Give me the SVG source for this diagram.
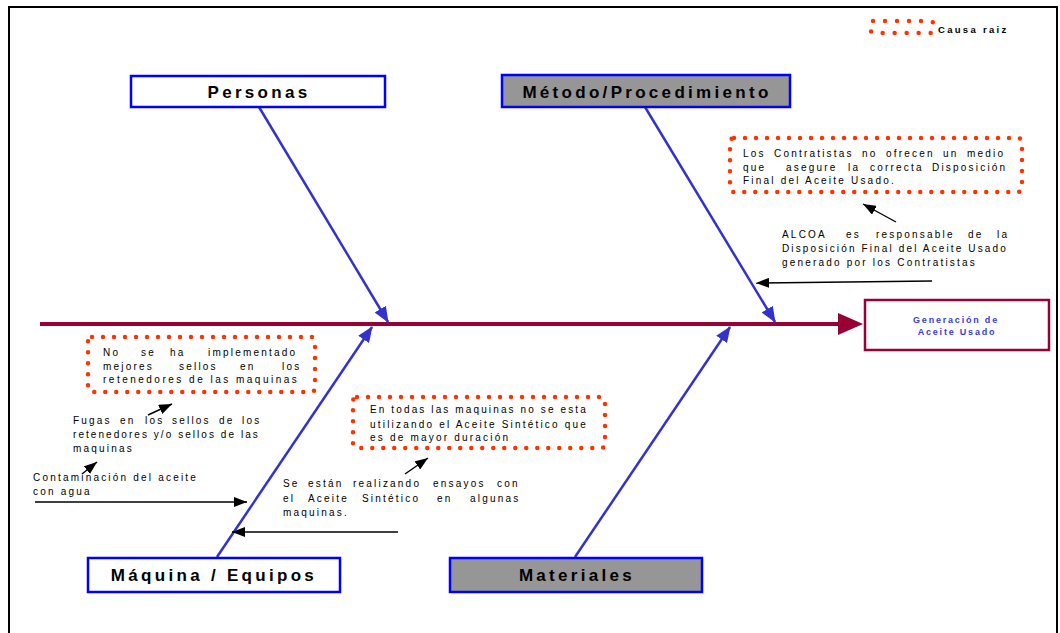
<svg xmlns="http://www.w3.org/2000/svg" width="1060" height="633" viewBox="0 0 1060 633">
  <defs>
    <marker id="blueHead" viewBox="0 0 16 13" refX="15" refY="6.5" markerWidth="16" markerHeight="13" markerUnits="userSpaceOnUse" orient="auto">
      <path d="M0,0 L16,6.5 L0,13 Z" fill="#3333cc"/>
    </marker>
    <marker id="blackHead" viewBox="0 0 13 10" refX="13" refY="5" markerWidth="13" markerHeight="10" markerUnits="userSpaceOnUse" orient="auto">
      <path d="M0,0 L13,5 L0,10 Z" fill="#000"/>
    </marker>
    <style>
      .title{font-family:"Liberation Sans",Arial,sans-serif;font-weight:bold;font-size:17px;letter-spacing:3.3px;text-anchor:middle;fill:#000}
      .note{font-family:"Liberation Sans",Arial,sans-serif;font-size:10px;letter-spacing:2.2px;fill:#000}
      .effect{font-family:"Liberation Sans",Arial,sans-serif;font-weight:bold;font-size:9px;letter-spacing:1.8px;text-anchor:middle;fill:#3b3bd6}
      .legend{font-family:"Liberation Sans",Arial,sans-serif;font-weight:bold;font-size:9.5px;letter-spacing:2.3px;fill:#000}
      .cause{fill:none;stroke:#ff3300;stroke-width:4.5;stroke-dasharray:0 11;stroke-linecap:round}
      .box{stroke:#0000ff;stroke-width:2.5}
      .bone{fill:none;stroke:#3333cc;stroke-width:2.5;marker-end:url(#blueHead)}
      .ptr{fill:none;stroke:#000;stroke-width:1.4;marker-end:url(#blackHead)}
    </style>
  </defs>

  <rect width="1060" height="633" fill="#fff"/>
  <!-- page frame -->
  <rect x="9" y="7" width="1048" height="700" fill="none" stroke="#000" stroke-width="2"/>

  <!-- legend -->
  <g id="legend">
    <rect class="cause" x="871" y="21" width="62" height="12" rx="2" style="stroke-dasharray:0 12"/>
    <text class="legend" x="938" y="33">Causa raiz</text>
  </g>

  <!-- connectors -->
  <g id="connectors">
    <!-- spine -->
    <line x1="40" y1="324" x2="840" y2="324" stroke="#990033" stroke-width="4"/>
    <path d="M838,313 L863,324 L838,335 Z" fill="#990033"/>
    <!-- main bones -->
    <line class="bone" x1="259" y1="107" x2="388" y2="322"/>
    <line class="bone" x1="645" y1="107" x2="775" y2="322"/>
    <line class="bone" x1="217" y1="557" x2="372" y2="327"/>
    <line class="bone" x1="575" y1="557" x2="730" y2="327"/>
    <!-- pointers -->
    <line class="ptr" x1="896" y1="222" x2="863" y2="204"/>
    <line class="ptr" x1="932" y1="281" x2="756" y2="283"/>
    <line class="ptr" x1="148" y1="415" x2="172" y2="404"/>
    <line class="ptr" x1="82" y1="474" x2="97" y2="462"/>
    <line class="ptr" x1="35" y1="502" x2="247" y2="502"/>
    <line class="ptr" x1="405" y1="474" x2="428" y2="458"/>
    <line class="ptr" x1="398" y1="532" x2="232" y2="532"/>
  </g>

  <!-- effect -->
  <g id="effect">
    <rect x="865" y="300" width="184" height="50" fill="#fff" stroke="#990033" stroke-width="2.5"/>
    <text class="effect" x="956" y="323">Generación de</text>
    <text class="effect" x="957" y="335">Aceite Usado</text>
  </g>

  <!-- category boxes -->
  <g id="personas">
    <rect class="box" x="131" y="76" width="254" height="31" fill="#fff"/>
    <text class="title" x="259" y="98">Personas</text>
  </g>
  <g id="metodo">
    <rect class="box" x="502" y="75" width="288" height="32" fill="#969696"/>
    <text class="title" x="647" y="98">Método/Procedimiento</text>
  </g>
  <g id="maquina">
    <rect class="box" x="88" y="558" width="252" height="34" fill="#fff"/>
    <text class="title" x="214" y="581">Máquina / Equipos</text>
  </g>
  <g id="materiales">
    <rect class="box" x="450" y="558" width="252" height="34" fill="#969696"/>
    <text class="title" x="577" y="581">Materiales</text>
  </g>

  <!-- root causes (dotted) -->
  <g id="causa-contratistas">
    <rect class="cause" x="730" y="138" width="292" height="54" rx="4"/>
    <text class="note" y="157">
      <tspan x="743">Los</tspan><tspan x="774">Contratistas</tspan><tspan x="862">no</tspan><tspan x="886">ofrecen</tspan><tspan x="943">un</tspan><tspan x="967">medio</tspan>
    </text>
    <text class="note" y="170.5">
      <tspan x="743">que</tspan><tspan x="786">asegure</tspan><tspan x="848">la</tspan><tspan x="870">correcta</tspan><tspan x="932">Disposición</tspan>
    </text>
    <text class="note" x="743" y="184">Final del Aceite Usado.</text>
  </g>

  <g id="causa-sellos">
    <rect class="cause" x="88" y="337" width="227" height="55" rx="4"/>
    <text class="note" y="356">
      <tspan x="103">No</tspan><tspan x="141">se</tspan><tspan x="170">ha</tspan><tspan x="208">implementado</tspan>
    </text>
    <text class="note" y="369.5">
      <tspan x="103">mejores</tspan><tspan x="179">sellos</tspan><tspan x="240">en</tspan><tspan x="282">los</tspan>
    </text>
    <text class="note" x="103" y="383" textLength="196" lengthAdjust="spacing">retenedores de las maquinas</text>
  </g>

  <g id="causa-sintetico">
    <rect class="cause" x="353" y="397" width="252" height="51" rx="4"/>
    <text class="note" x="370" y="413" textLength="218" lengthAdjust="spacing">En todas las maquinas no se esta</text>
    <text class="note" x="370" y="428" textLength="218" lengthAdjust="spacing">utilizando el Aceite Sintético que</text>
    <text class="note" x="370" y="441">es de mayor duración</text>
  </g>

  <!-- supporting facts -->
  <g id="hecho-alcoa">
    <text class="note" y="238">
      <tspan x="782">ALCOA</tspan><tspan x="846">es</tspan><tspan x="876">responsable</tspan><tspan x="968">de</tspan><tspan x="997">la</tspan>
    </text>
    <text class="note" x="782" y="252" textLength="226" lengthAdjust="spacing">Disposición Final del Aceite Usado</text>
    <text class="note" x="782" y="266">generado por los Contratistas</text>
  </g>

  <g id="hecho-fugas">
    <text class="note" y="424">
      <tspan x="73">Fugas</tspan><tspan x="120">en</tspan><tspan x="145">los</tspan><tspan x="172">sellos</tspan><tspan x="219">de</tspan><tspan x="242">los</tspan>
    </text>
    <text class="note" x="73" y="438" textLength="187" lengthAdjust="spacing">retenedores y/o sellos de las</text>
    <text class="note" x="73" y="452">maquinas</text>
  </g>

  <g id="hecho-contaminacion">
    <text class="note" x="33" y="481">Contaminación del aceite</text>
    <text class="note" x="33" y="495">con agua</text>
  </g>

  <g id="hecho-ensayos">
    <text class="note" y="487">
      <tspan x="283">Se</tspan><tspan x="308">están</tspan><tspan x="353">realizando</tspan><tspan x="433">ensayos</tspan><tspan x="497">con</tspan>
    </text>
    <text class="note" y="502">
      <tspan x="283">el</tspan><tspan x="308">Aceite</tspan><tspan x="362">Sintético</tspan><tspan x="437">en</tspan><tspan x="470">algunas</tspan>
    </text>
    <text class="note" x="283" y="516">maquinas.</text>
  </g>
</svg>
